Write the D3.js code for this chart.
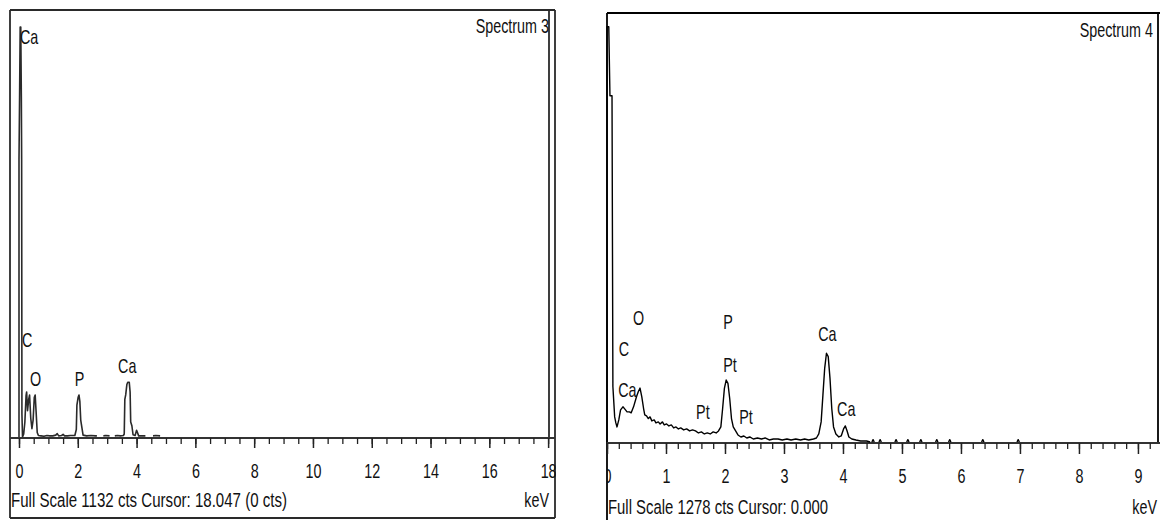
<!DOCTYPE html>
<html>
<head>
<meta charset="utf-8">
<script src="https://cdn.jsdelivr.net/npm/d3@7"></script>
<style>
  body { margin: 0; background: #fff; }
  svg text { font-family: "Liberation Sans", Arial, sans-serif; fill: #111; }
</style>
</head>
<body>
<svg id="chart" width="1160" height="520"></svg>
<script>
// ---- data: [keV, counts], null = break in the trace ----
const spectrum3 = [
  [0.00, 0], [0.00, 740], [0.02, 905], [0.04, 1092], [0.06, 1092], [0.08, 905], [0.09, 740], [0.10, 60], [0.12, 0],
  [0.16, 8], [0.20, 40], [0.24, 110], [0.26, 120], [0.29, 70], [0.33, 100], [0.36, 112], [0.40, 50], [0.44, 22],
  [0.48, 45], [0.52, 105], [0.55, 112], [0.58, 70], [0.62, 12], [0.66, 4], [0.75, 3], [0.85, 2], [0.95, 4], [1.05, 3],
  [1.15, 3], [1.25, 5], [1.30, 9], [1.35, 3], [1.45, 4], [1.50, 7], [1.55, 3], [1.65, 3], [1.75, 4], [1.85, 4],
  [1.90, 4], [1.95, 20], [1.97, 85], [2.01, 105], [2.04, 112], [2.07, 95], [2.10, 45], [2.14, 25], [2.18, 5],
  [2.30, 3], [2.45, 4], [2.60, 3], [2.65, 3],
  null,
  [2.87, 3], [2.95, 4], [3.08, 3],
  null,
  [3.26, 3], [3.35, 4], [3.45, 3], [3.55, 4], [3.58, 8], [3.60, 100], [3.63, 112], [3.67, 140], [3.70, 146],
  [3.75, 146], [3.78, 120], [3.80, 40], [3.84, 30], [3.88, 6], [3.95, 4], [4.00, 18], [4.03, 12], [4.07, 3],
  [4.15, 3], [4.30, 3],
  null,
  [4.56, 3], [4.65, 4], [4.80, 3]
];

const spectrum4 = [
  [0.00, 0], [0.00, 1240], [0.03, 1240], [0.05, 1034], [0.085, 1034], [0.10, 165], [0.13, 75], [0.15, 57], [0.17, 45],
  [0.20, 66], [0.23, 96], [0.27, 105], [0.30, 99], [0.34, 90], [0.38, 90], [0.41, 87], [0.45, 105], [0.50, 135],
  [0.53, 150], [0.56, 161], [0.59, 135], [0.62, 100], [0.64, 81],
  [0.67, 78], [0.70, 70], [0.73, 75], [0.76, 63], [0.80, 66], [0.83, 57], [0.87, 60], [0.90, 54], [0.94, 60],
  [0.97, 51], [1.01, 54], [1.05, 48], [1.09, 51], [1.13, 42], [1.17, 45], [1.21, 39], [1.25, 42], [1.30, 36],
  [1.35, 39], [1.40, 33], [1.45, 36], [1.50, 33], [1.55, 27], [1.60, 30], [1.65, 24], [1.70, 27], [1.75, 24],
  [1.80, 30], [1.85, 27], [1.89, 33],
  [1.93, 45], [1.96, 100], [1.99, 160], [2.02, 185], [2.05, 175], [2.08, 130], [2.11, 70], [2.14, 45], [2.18, 33],
  [2.22, 21], [2.27, 15], [2.32, 18], [2.37, 12], [2.42, 15], [2.48, 9], [2.55, 12], [2.62, 9], [2.68, 12],
  [2.75, 6], [2.82, 9], [2.90, 9], [2.97, 6], [3.05, 9], [3.12, 6], [3.20, 9], [3.28, 6], [3.35, 9], [3.42, 6],
  [3.50, 9], [3.55, 12],
  [3.59, 24], [3.63, 60], [3.66, 140], [3.69, 220], [3.72, 265], [3.75, 255], [3.78, 190], [3.81, 100], [3.84, 45],
  [3.88, 24], [3.93, 15], [3.97, 18], [4.01, 39], [4.04, 48], [4.07, 33], [4.10, 15], [4.15, 9], [4.22, 6],
  [4.30, 3], [4.40, 3], [4.46, 0],
  null, [4.49, 0], [4.51, 7], [4.53, 0],
  null, [4.61, 0], [4.63, 7], [4.65, 0],
  null, [4.88, 0], [4.90, 7], [4.92, 0],
  null, [5.08, 0], [5.10, 7], [5.12, 0],
  null, [5.30, 0], [5.32, 7], [5.34, 0],
  null, [5.57, 0], [5.59, 7], [5.61, 0],
  null, [5.79, 0], [5.81, 7], [5.83, 0],
  null, [6.35, 0], [6.37, 7], [6.39, 0],
  null, [6.95, 0], [6.97, 7], [6.99, 0]
];

// peak labels: [text, keV, counts] (text start / baseline)
const labels3 = [["Ca", 0.03, 1047], ["C", 0.10, 240], ["O", 0.37, 136], ["P", 1.90, 136], ["Ca", 3.37, 170]];
const labels4 = [["O", 0.44, 350], ["C", 0.20, 257], ["Ca", 0.19, 135], ["P", 1.97, 338], ["Pt", 1.97, 209],
                 ["Pt", 1.51, 69], ["Pt", 2.24, 54], ["Ca", 3.58, 302], ["Ca", 3.90, 78]];

const ticks3 = [0, 2, 4, 6, 8, 10, 12, 14, 16, 18];
const ticks4 = [0, 1, 2, 3, 4, 5, 6, 7, 8, 9];

const svg = d3.select("#chart");
const SX = 0.7;   // the screenshot font is a squeezed Arial
const FS = 20.5;

const x3 = d3.scaleLinear().domain([0, 18.03]).range([19, 549]);
const y3 = d3.scaleLinear().domain([0, 1132]).range([437, 12]);
const x4 = d3.scaleLinear().domain([0, 9.34]).range([607, 1158]);
const y4 = d3.scaleLinear().domain([0, 1278]).range([442, 14]);

function addText(g, x, y, str, anchor) {
  return g.append("text")
    .attr("transform", `translate(${x},${y}) scale(${SX},1)`)
    .attr("text-anchor", anchor || "start")
    .attr("font-size", FS)
    .text(str);
}

const panels = [
  {
    id: "p3", x: x3, y: y3, data: spectrum3, labels: labels3, ticks: ticks3,
    minor: d3.range(0, 18.01, 0.5), major: 10, color: "#2a2a2a", lw: 1.6,
    frame: [[10, 10, 555, 10], [10, 10, 10, 518], [10, 518, 555, 518], [555, 10, 555, 518], [549, 10, 549, 437]],
    axisFrom: 10, axisTo: 555, clip: [10, 556],
    title: "Spectrum 3", titleX: 549, titleY: 33,
    foot: "Full Scale 1132 cts Cursor: 18.047  (0 cts)", footX: 11, footY: 507, footW: 276,
    kevX: 549, kevY: 507
  },
  {
    id: "p4", x: x4, y: y4, data: spectrum4, labels: labels4, ticks: ticks4,
    minor: d3.range(0, 9.35, 0.2), major: 11, color: "#000", lw: 1.4,
    frame: [[607, 13, 1160, 13], [607, 13, 607, 520], [1158, 13, 1158, 442]],
    axisFrom: 607, axisTo: 1160, clip: [607, 1160],
    title: "Spectrum 4", titleX: 1153, titleY: 37,
    foot: "Full Scale 1278 cts Cursor: 0.000", footX: 608, footY: 514, footW: 220,
    kevX: 1157, kevY: 514
  }
];

panels.forEach(p => {
  const g = svg.append("g");
  const y0 = p.y(0);

  svg.append("clipPath").attr("id", "clip-" + p.id)
    .append("rect").attr("x", p.clip[0]).attr("y", 0)
    .attr("width", p.clip[1] - p.clip[0]).attr("height", 520);

  // frame
  p.frame.forEach(([a, b, c, d]) => {
    g.append("line").attr("x1", a).attr("y1", b).attr("x2", c).attr("y2", d)
      .attr("stroke", p.color).attr("stroke-width", 1.8);
  });

  // baseline
  g.append("line").attr("x1", p.axisFrom).attr("x2", p.axisTo)
    .attr("y1", y0 + 1).attr("y2", y0 + 1)
    .attr("stroke", "#333").attr("stroke-width", 2);

  // minor ticks
  g.append("g").attr("transform", `translate(0,${y0 + 1})`)
    .call(d3.axisBottom(p.x).tickValues(p.minor).tickSize(6).tickFormat(""))
    .call(a => a.select(".domain").remove())
    .selectAll("line").attr("stroke", "#222").attr("stroke-width", 1.3);

  // major ticks + labels
  const ax = g.append("g").attr("transform", `translate(0,${y0 + 1})`)
    .attr("clip-path", `url(#clip-${p.id})`)
    .call(d3.axisBottom(p.x).tickValues(p.ticks).tickSize(p.major).tickFormat(d3.format("d")))
    .call(a => a.select(".domain").remove());
  ax.selectAll("line").attr("stroke", "#222").attr("stroke-width", 1.5);
  ax.selectAll("text").attr("y", null).attr("dy", null)
    .attr("transform", `translate(0,40) scale(${SX},1)`)
    .attr("font-size", FS).attr("font-family", null).attr("fill", "#111");
  ax.attr("font-family", null);

  // spectrum trace
  g.append("path").datum(p.data)
    .attr("fill", "none").attr("stroke", p.color).attr("stroke-width", p.lw)
    .attr("stroke-linejoin", "round")
    .attr("d", d3.line().defined(d => d !== null).x(d => p.x(d[0])).y(d => p.y(d[1])));

  // peak labels
  p.labels.forEach(d => addText(g, p.x(d[1]), p.y(d[2]), d[0]));

  // texts
  addText(g, p.titleX, p.titleY, p.title, "end");
  g.append("text").attr("x", p.footX).attr("y", p.footY)
    .attr("font-size", FS).attr("textLength", p.footW).attr("lengthAdjust", "spacingAndGlyphs")
    .text(p.foot);
  addText(g, p.kevX, p.kevY, "keV", "end");
});
</script>
</body>
</html>
